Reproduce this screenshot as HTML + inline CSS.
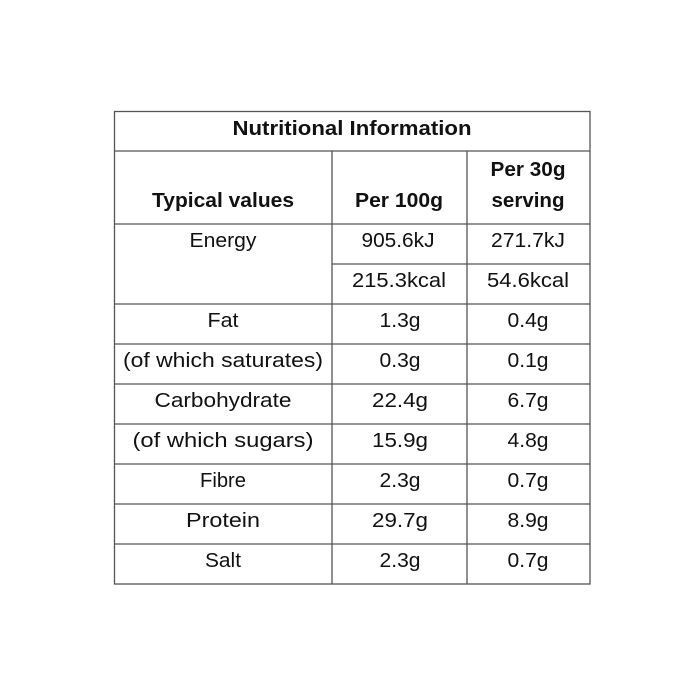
<!DOCTYPE html>
<html><head><style>body{margin:0;background:#fff}svg{display:block}</style></head><body>
<svg width="700" height="700" xmlns="http://www.w3.org/2000/svg" font-family="Liberation Sans, sans-serif" font-size="20.5" fill="#111" text-anchor="middle" lengthAdjust="spacingAndGlyphs">
<g stroke="#555" stroke-width="1.3" fill="none">
<rect x="114.5" y="111.5" width="475.5" height="472.5"/>
<line x1="114" y1="151" x2="590" y2="151"/>
<line x1="114" y1="224" x2="590" y2="224"/>
<line x1="332" y1="264" x2="590" y2="264"/>
<line x1="114" y1="304" x2="590" y2="304"/>
<line x1="114" y1="344" x2="590" y2="344"/>
<line x1="114" y1="384" x2="590" y2="384"/>
<line x1="114" y1="424" x2="590" y2="424"/>
<line x1="114" y1="464" x2="590" y2="464"/>
<line x1="114" y1="504" x2="590" y2="504"/>
<line x1="114" y1="544" x2="590" y2="544"/>
<line x1="332" y1="151" x2="332" y2="584"/>
<line x1="467" y1="151" x2="467" y2="584"/>
</g>
<g font-weight="bold">
<text x="352" y="135" textLength="239" lengthAdjust="spacingAndGlyphs">Nutritional Information</text>
<text x="223" y="207" textLength="142" lengthAdjust="spacingAndGlyphs">Typical values</text>
<text x="399" y="207" textLength="88" lengthAdjust="spacingAndGlyphs">Per 100g</text>
<text x="528" y="176" textLength="75" lengthAdjust="spacingAndGlyphs">Per 30g</text>
<text x="528" y="207" textLength="73" lengthAdjust="spacingAndGlyphs">serving</text>
</g>
<g>
<text x="223" y="247" textLength="67" lengthAdjust="spacingAndGlyphs">Energy</text><text x="398" y="247" textLength="73" lengthAdjust="spacingAndGlyphs">905.6kJ</text><text x="528" y="247" textLength="74" lengthAdjust="spacingAndGlyphs">271.7kJ</text>
<text x="399" y="287" textLength="94" lengthAdjust="spacingAndGlyphs">215.3kcal</text><text x="528" y="287" textLength="82" lengthAdjust="spacingAndGlyphs">54.6kcal</text>
<text x="223" y="327" textLength="31" lengthAdjust="spacingAndGlyphs">Fat</text><text x="400" y="327" textLength="41" lengthAdjust="spacingAndGlyphs">1.3g</text><text x="528" y="327" textLength="41" lengthAdjust="spacingAndGlyphs">0.4g</text>
<text x="223" y="367" textLength="200" lengthAdjust="spacingAndGlyphs">(of which saturates)</text><text x="400" y="367" textLength="41" lengthAdjust="spacingAndGlyphs">0.3g</text><text x="528" y="367" textLength="41" lengthAdjust="spacingAndGlyphs">0.1g</text>
<text x="223" y="407" textLength="137" lengthAdjust="spacingAndGlyphs">Carbohydrate</text><text x="400" y="407" textLength="56" lengthAdjust="spacingAndGlyphs">22.4g</text><text x="528" y="407" textLength="41" lengthAdjust="spacingAndGlyphs">6.7g</text>
<text x="223" y="447" textLength="181" lengthAdjust="spacingAndGlyphs">(of which sugars)</text><text x="400" y="447" textLength="56" lengthAdjust="spacingAndGlyphs">15.9g</text><text x="528" y="447" textLength="41" lengthAdjust="spacingAndGlyphs">4.8g</text>
<text x="223" y="487" textLength="46" lengthAdjust="spacingAndGlyphs">Fibre</text><text x="400" y="487" textLength="41" lengthAdjust="spacingAndGlyphs">2.3g</text><text x="528" y="487" textLength="41" lengthAdjust="spacingAndGlyphs">0.7g</text>
<text x="223" y="527" textLength="74" lengthAdjust="spacingAndGlyphs">Protein</text><text x="400" y="527" textLength="56" lengthAdjust="spacingAndGlyphs">29.7g</text><text x="528" y="527" textLength="41" lengthAdjust="spacingAndGlyphs">8.9g</text>
<text x="223" y="567" textLength="36" lengthAdjust="spacingAndGlyphs">Salt</text><text x="400" y="567" textLength="41" lengthAdjust="spacingAndGlyphs">2.3g</text><text x="528" y="567" textLength="41" lengthAdjust="spacingAndGlyphs">0.7g</text>
</g>
</svg>
</body></html>
